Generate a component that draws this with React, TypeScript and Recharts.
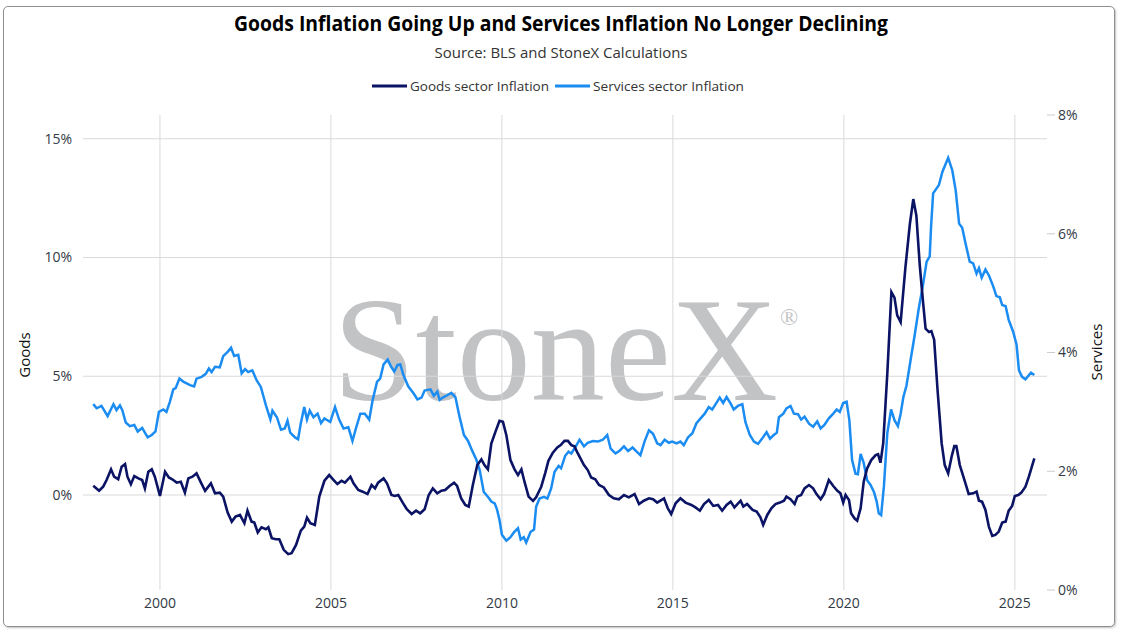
import { LineChart, Line, XAxis, YAxis, CartesianGrid } from "recharts";

// monthly-ish readings, decimal years
const goodsDates = [
  1998.05, 1998.22, 1998.34, 1998.44, 1998.57, 1998.66, 1998.78, 1998.88, 1998.98, 1999.05,
  1999.15, 1999.25, 1999.37, 1999.48, 1999.56, 1999.66, 1999.76, 1999.85, 2000.0, 2000.15,
  2000.26, 2000.36, 2000.49, 2000.61, 2000.73, 2000.83, 2000.95, 2001.07, 2001.2, 2001.32,
  2001.49, 2001.61, 2001.75, 2001.85, 2001.98, 2002.1, 2002.21, 2002.34, 2002.47, 2002.56,
  2002.68, 2002.76, 2002.86, 2002.97, 2003.1, 2003.17, 2003.27, 2003.39, 2003.49, 2003.62,
  2003.75, 2003.85, 2003.98, 2004.12, 2004.22, 2004.3, 2004.4, 2004.53, 2004.66, 2004.81,
  2004.95, 2005.08, 2005.19, 2005.31, 2005.41, 2005.57, 2005.66, 2005.8, 2005.93, 2006.07,
  2006.19, 2006.29, 2006.38, 2006.54, 2006.64, 2006.77, 2006.87, 2006.97, 2007.1, 2007.22,
  2007.36, 2007.49, 2007.61, 2007.74, 2007.86, 2007.98, 2008.11, 2008.23, 2008.34, 2008.47,
  2008.6, 2008.69, 2008.81, 2008.93, 2009.03, 2009.15, 2009.28, 2009.4, 2009.49, 2009.59,
  2009.69, 2009.81, 2009.93, 2010.03, 2010.13, 2010.25, 2010.37, 2010.47, 2010.57, 2010.66,
  2010.78, 2010.91, 2011.0, 2011.15, 2011.27, 2011.36, 2011.49, 2011.62, 2011.72, 2011.83,
  2011.93, 2012.03, 2012.12, 2012.22, 2012.4, 2012.51, 2012.61, 2012.73, 2012.84, 2012.98,
  2013.13, 2013.27, 2013.42, 2013.57, 2013.71, 2013.88, 2014.01, 2014.15, 2014.3, 2014.42,
  2014.54, 2014.74, 2014.85, 2014.95, 2015.08, 2015.22, 2015.37, 2015.54, 2015.66, 2015.79,
  2015.91, 2016.05, 2016.18, 2016.32, 2016.44, 2016.57, 2016.69, 2016.8, 2016.98, 2017.06,
  2017.17, 2017.33, 2017.45, 2017.56, 2017.64, 2017.76, 2017.88, 2018.0, 2018.13, 2018.25,
  2018.32, 2018.44, 2018.56, 2018.64, 2018.75, 2018.85, 2018.98, 2019.1, 2019.2, 2019.32,
  2019.42, 2019.56, 2019.69, 2019.81, 2019.9, 2019.98, 2020.05, 2020.15, 2020.21, 2020.31,
  2020.39, 2020.49, 2020.58, 2020.68, 2020.8, 2020.93, 2021.0, 2021.07, 2021.15, 2021.27,
  2021.39, 2021.48, 2021.56, 2021.66, 2021.8, 2021.93, 2022.03, 2022.12, 2022.22, 2022.32,
  2022.39, 2022.49, 2022.56, 2022.64, 2022.74, 2022.86, 2022.95, 2023.05, 2023.15, 2023.23,
  2023.29, 2023.39, 2023.54, 2023.65, 2023.78, 2023.88, 2023.95, 2024.04, 2024.14, 2024.24,
  2024.34, 2024.43, 2024.53, 2024.63, 2024.73, 2024.82, 2024.92, 2025.0, 2025.1, 2025.19,
  2025.31, 2025.41, 2025.57,
];
const goodsValues = [
  0.39, 0.18, 0.35, 0.63, 1.08, 0.77, 0.66, 1.19, 1.3, 0.77,
  0.45, 0.8, 0.7, 0.63, 0.28, 0.98, 1.08, 0.77, -0.04, 0.98,
  0.74, 0.66, 0.52, 0.56, 0.1, 0.7, 0.77, 0.91, 0.52, 0.18,
  0.49, 0.07, 0.1, -0.07, -0.74, -1.12, -0.91, -0.84, -1.19, -0.66,
  -1.12, -1.16, -1.58, -1.36, -1.44, -1.36, -1.82, -1.86, -1.86, -2.31,
  -2.49, -2.45, -2.1, -1.5, -1.33, -0.95, -1.19, -1.26, -0.07, 0.6,
  0.84, 0.63, 0.46, 0.6, 0.52, 0.77, 0.49, 0.21, 0.14, 0.04,
  0.42, 0.28, 0.52, 0.7, 0.49, 0.0, -0.04, 0.0, -0.32, -0.6,
  -0.8, -0.66, -0.77, -0.6, 0.0, 0.28, 0.07, 0.18, 0.21, 0.38,
  0.52, 0.38, -0.14, -0.42, -0.49, 0.42, 1.26, 1.5, 1.26, 1.08,
  2.17, 2.66, 3.12, 3.08, 2.52, 1.47, 1.08, 0.84, 1.08, 0.56,
  -0.07, -0.25, -0.1, 0.35, 0.94, 1.44, 1.78, 2.0, 2.1, 2.28,
  2.28, 2.1, 2.05, 1.75, 1.26, 1.05, 0.74, 0.66, 0.42, 0.32,
  0.0, -0.14, -0.18, 0.0, -0.1, 0.04, -0.38, -0.24, -0.14, -0.18,
  -0.32, -0.14, -0.56, -0.8, -0.35, -0.14, -0.32, -0.42, -0.52, -0.66,
  -0.38, -0.21, -0.46, -0.42, -0.66, -0.42, -0.28, -0.52, -0.24, -0.49,
  -0.38, -0.63, -0.7, -0.94, -1.26, -0.84, -0.56, -0.38, -0.32, -0.24,
  -0.07, -0.18, -0.38, -0.07, 0.0, 0.28, 0.42, 0.28, 0.04, -0.18,
  0.04, 0.63, 0.38, 0.18, 0.07, -0.32, 0.0, -0.21, -0.77, -0.98,
  -1.08, -0.56, 0.56, 1.12, 1.47, 1.68, 1.72, 1.36, 2.17, 5.11,
  8.54, 8.31, 7.56, 7.28, 9.59, 11.41, 12.46, 11.76, 9.66, 8.05,
  7.0, 6.86, 6.9, 6.54, 4.41, 2.17, 1.26, 0.91, 1.61, 2.06,
  2.06, 1.26, 0.56, 0.04, 0.07, 0.14, -0.24, -0.28, -0.63, -1.33,
  -1.72, -1.68, -1.54, -1.16, -1.12, -0.66, -0.46, -0.04, 0.0, 0.1,
  0.35, 0.77, 1.54,
];

const servicesDates = [
  1998.05, 1998.15, 1998.29, 1998.47, 1998.64, 1998.73, 1998.83, 1998.9, 1999.0, 1999.12,
  1999.25, 1999.35, 1999.48, 1999.64, 1999.76, 1999.87, 1999.97, 2000.1, 2000.19, 2000.29,
  2000.39, 2000.46, 2000.57, 2000.68, 2000.78, 2000.88, 2001.0, 2001.07, 2001.22, 2001.34,
  2001.43, 2001.51, 2001.61, 2001.75, 2001.85, 2001.98, 2002.08, 2002.17, 2002.29, 2002.39,
  2002.49, 2002.58, 2002.7, 2002.83, 2002.95, 2003.1, 2003.23, 2003.29, 2003.42, 2003.54,
  2003.65, 2003.73, 2003.81, 2003.95, 2004.04, 2004.12, 2004.22, 2004.3, 2004.38, 2004.49,
  2004.61, 2004.71, 2004.81, 2004.98, 2005.12, 2005.24, 2005.37, 2005.51, 2005.63, 2005.73,
  2005.86, 2005.99, 2006.12, 2006.22, 2006.35, 2006.44, 2006.54, 2006.66, 2006.75, 2006.85,
  2006.95, 2007.03, 2007.12, 2007.26, 2007.42, 2007.53, 2007.65, 2007.74, 2007.91, 2008.01,
  2008.11, 2008.18, 2008.27, 2008.4, 2008.52, 2008.64, 2008.76, 2008.89, 2009.01, 2009.12,
  2009.25, 2009.35, 2009.47, 2009.59, 2009.69, 2009.79, 2009.86, 2009.93, 2010.0, 2010.13,
  2010.25, 2010.35, 2010.47, 2010.55, 2010.64, 2010.71, 2010.84, 2010.94, 2011.0, 2011.1,
  2011.23, 2011.33, 2011.44, 2011.54, 2011.66, 2011.73, 2011.85, 2011.95, 2012.03, 2012.14,
  2012.27, 2012.4, 2012.51, 2012.66, 2012.81, 2012.95, 2013.08, 2013.18, 2013.32, 2013.45,
  2013.57, 2013.69, 2013.82, 2013.94, 2014.05, 2014.17, 2014.3, 2014.42, 2014.54, 2014.64,
  2014.76, 2014.88, 2014.98, 2015.11, 2015.22, 2015.32, 2015.44, 2015.57, 2015.69, 2015.81,
  2015.93, 2016.05, 2016.15, 2016.25, 2016.37, 2016.47, 2016.57, 2016.69, 2016.78, 2016.9,
  2017.03, 2017.12, 2017.25, 2017.37, 2017.49, 2017.61, 2017.74, 2017.84, 2017.95, 2018.04,
  2018.1, 2018.23, 2018.32, 2018.44, 2018.54, 2018.66, 2018.75, 2018.85, 2018.98, 2019.1,
  2019.22, 2019.32, 2019.43, 2019.56, 2019.69, 2019.79, 2019.88, 2019.98, 2020.08, 2020.16,
  2020.24, 2020.34, 2020.41, 2020.49, 2020.58, 2020.68, 2020.78, 2020.88, 2020.96, 2021.02,
  2021.09, 2021.17, 2021.27, 2021.38, 2021.48, 2021.58, 2021.66, 2021.74, 2021.83, 2021.95,
  2022.07, 2022.19, 2022.32, 2022.42, 2022.51, 2022.55, 2022.61, 2022.78, 2022.88, 2023.05,
  2023.17, 2023.27, 2023.37, 2023.46, 2023.56, 2023.68, 2023.78, 2023.88, 2023.95, 2024.03,
  2024.14, 2024.24, 2024.37, 2024.46, 2024.56, 2024.63, 2024.73, 2024.82, 2024.95, 2025.05,
  2025.12, 2025.21, 2025.31, 2025.47, 2025.57,
];
const servicesValues = [
  3.13, 3.06, 3.1, 2.93, 3.13, 3.03, 3.11, 3.03, 2.82, 2.76,
  2.78, 2.67, 2.73, 2.57, 2.61, 2.67, 3.0, 3.04, 3.0, 3.17,
  3.38, 3.4, 3.56, 3.51, 3.48, 3.45, 3.43, 3.56, 3.59, 3.64,
  3.73, 3.67, 3.76, 3.75, 3.94, 4.01, 4.08, 3.94, 3.96, 3.65,
  3.72, 3.67, 3.7, 3.53, 3.42, 3.11, 2.87, 3.02, 2.91, 2.7,
  2.72, 2.85, 2.65, 2.57, 2.54, 2.81, 3.08, 2.87, 3.02, 2.91,
  2.97, 2.81, 2.89, 2.83, 3.08, 2.87, 2.72, 2.74, 2.51, 2.72,
  2.97, 2.97, 2.87, 3.2, 3.51, 3.56, 3.8, 3.88, 3.77, 3.68,
  3.79, 3.8, 3.62, 3.43, 3.31, 3.21, 3.24, 3.36, 3.38, 3.27,
  3.34, 3.2, 3.24, 3.28, 3.32, 3.25, 2.92, 2.61, 2.51, 2.36,
  2.2, 2.02, 1.65, 1.57, 1.49, 1.46, 1.35, 1.18, 0.93, 0.83,
  0.89, 0.97, 1.04, 0.85, 0.89, 0.8, 0.98, 1.02, 1.4, 1.54,
  1.57, 1.54, 1.71, 1.99, 2.09, 2.05, 2.26, 2.33, 2.3, 2.4,
  2.53, 2.42, 2.48, 2.51, 2.5, 2.53, 2.61, 2.38, 2.3, 2.35,
  2.42, 2.34, 2.4, 2.33, 2.27, 2.5, 2.69, 2.63, 2.47, 2.44,
  2.53, 2.48, 2.5, 2.47, 2.5, 2.44, 2.57, 2.64, 2.81, 2.89,
  2.97, 3.08, 3.04, 3.13, 3.24, 3.15, 3.25, 3.14, 3.04, 3.1,
  3.13, 2.83, 2.61, 2.5, 2.46, 2.55, 2.66, 2.55, 2.61, 2.65,
  2.91, 2.97, 3.06, 3.1, 2.97, 2.96, 2.87, 2.92, 2.8, 2.75,
  2.84, 2.72, 2.78, 2.89, 2.97, 3.04, 3.0, 3.15, 3.17, 2.86,
  2.19, 1.96, 1.95, 2.29, 2.14, 1.85, 1.77, 1.65, 1.49, 1.29,
  1.26, 1.74, 2.64, 3.04, 2.86, 2.76, 2.97, 3.25, 3.44, 3.87,
  4.29, 4.74, 5.16, 5.53, 5.62, 6.12, 6.68, 6.82, 7.04, 7.28,
  7.07, 6.73, 6.17, 6.1, 5.83, 5.53, 5.5, 5.33, 5.42, 5.26,
  5.4, 5.3, 5.11, 4.95, 4.93, 4.8, 4.78, 4.55, 4.35, 4.13,
  3.7, 3.59, 3.55, 3.66, 3.62,
];

const yearTicks = [2000, 2005, 2010, 2015, 2020, 2025];
const yearDomain = [1997.75, 2025.94];
const goodsTicks = [0, 5, 10, 15];
const goodsDomain = [-4, 16];
const servicesTicks = [0, 2, 4, 6, 8];
const servicesDomain = [0, 8];

const goodsData = goodsDates.map((date, i) => ({ date, value: goodsValues[i] }));
const servicesData = servicesDates.map((date, i) => ({ date, value: servicesValues[i] }));

const GOODS = "#0b1365";
const SERVICES = "#1a8cf2";
const TICK = { fill: "#333a46", fontSize: 14 };

// map a value through the axis scale that recharts hands to the grid generators
function scaleOf(axis: any, v: number, start: number, size: number, domain: number[], flip: boolean) {
  const s = axis && axis.scale;
  try {
    if (typeof s === "function") return s(v);
    if (s && typeof s.map === "function") return s.map(v);
    if (s && typeof s.apply === "function") return s.apply(v);
  } catch (e) {
    // fall through
  }
  const f = (v - domain[0]) / (domain[1] - domain[0]);
  return flip ? start + size * (1 - f) : start + size * f;
}

// grid lines only at the tick values, not at the plot edges
const gridX = ({ xAxis, offset }: any) =>
  yearTicks.map((t) => scaleOf(xAxis, t, offset.left, offset.width, yearDomain, false));
const gridY = ({ yAxis, offset }: any) =>
  goodsTicks.map((t) => scaleOf(yAxis, t, offset.top, offset.height, goodsDomain, true));

export default function App() {
  return (
    <div
      style={{
        position: "absolute",
        left: 0,
        top: 0,
        width: 1123,
        height: 634,
        fontFamily: "'Open Sans', sans-serif",
        background: "#fff",
      }}
    >
      <div
        style={{
          position: "absolute",
          left: 3,
          top: 6,
          width: 1112,
          height: 621,
          border: "1px solid #8f8f8f",
          borderRadius: 5,
          boxShadow: "1px 1px 2px rgba(0,0,0,0.25)",
          boxSizing: "border-box",
        }}
      />
      <svg width={1123} height={634} style={{ position: "absolute", left: 0, top: 0 }}>
        <text x={561} y={31} textAnchor="middle" fontSize={21} fontWeight={700} fill="#000" textLength={654} lengthAdjust="spacingAndGlyphs">
          Goods Inflation Going Up and Services Inflation No Longer Declining
        </text>
        <text x={561} y={58} textAnchor="middle" fontSize={14} fill="#333" textLength={253} lengthAdjust="spacingAndGlyphs">
          Source: BLS and StoneX Calculations
        </text>
        <line x1={372} y1={86} x2={407} y2={86} stroke={GOODS} strokeWidth={3} />
        <text x={410} y={91} fontSize={13.5} fill="#333" textLength={139} lengthAdjust="spacingAndGlyphs">
          Goods sector Inflation
        </text>
        <line x1={555} y1={86} x2={590} y2={86} stroke={SERVICES} strokeWidth={3} />
        <text x={593} y={91} fontSize={13.5} fill="#333" textLength={151} lengthAdjust="spacingAndGlyphs">
          Services sector Inflation
        </text>
        <text x={333} y={400} fontFamily="'Liberation Serif', serif" fontSize={148} fill="#c2c3c5" textLength={445} lengthAdjust="spacingAndGlyphs">
          StoneX
        </text>
        <text x={780} y={325} fontFamily="'Liberation Serif', serif" fontSize={24} fill="#c2c3c5">
          ®
        </text>
        <text x={30} y={355} fontSize={15} fill="#111" textAnchor="middle" transform="rotate(-90 30 355)">
          Goods
        </text>
        <text x={1102} y={352} fontSize={15} fill="#111" textAnchor="middle" transform="rotate(-90 1102 352)">
          Services
        </text>
      </svg>
      <div style={{ position: "absolute", left: 0, top: 0 }}>
        <LineChart width={1123} height={634} margin={{ top: 115, right: 0, bottom: 0, left: 0 }}>
          <CartesianGrid
            stroke="#d9d9d9"
            yAxisId="left"
            verticalCoordinatesGenerator={gridX}
            horizontalCoordinatesGenerator={gridY}
          />
          <XAxis
            dataKey="date"
            type="number"
            domain={yearDomain}
            ticks={yearTicks}
            allowDataOverflow
            axisLine={false}
            tickLine={false}
            height={44}
            tick={TICK}
          />
          <YAxis
            yAxisId="left"
            domain={goodsDomain}
            ticks={goodsTicks}
            allowDataOverflow
            tickFormatter={(v) => `${v}%`}
            axisLine={false}
            tickLine={false}
            tickMargin={5}
            width={83}
            tick={TICK}
          />
          <YAxis
            yAxisId="right"
            orientation="right"
            domain={servicesDomain}
            ticks={servicesTicks}
            allowDataOverflow
            tickFormatter={(v) => `${v}%`}
            axisLine={false}
            tickLine={{ stroke: "#cccccc" }}
            tickSize={8}
            tickMargin={3}
            width={76}
            tick={TICK}
          />
          <Line
            yAxisId="right"
            data={servicesData}
            dataKey="value"
            type="linear"
            stroke={SERVICES}
            strokeWidth={2.5}
            dot={false}
            isAnimationActive={false}
          />
          <Line
            yAxisId="left"
            data={goodsData}
            dataKey="value"
            type="linear"
            stroke={GOODS}
            strokeWidth={2.6}
            dot={false}
            isAnimationActive={false}
          />
        </LineChart>
      </div>
    </div>
  );
}
